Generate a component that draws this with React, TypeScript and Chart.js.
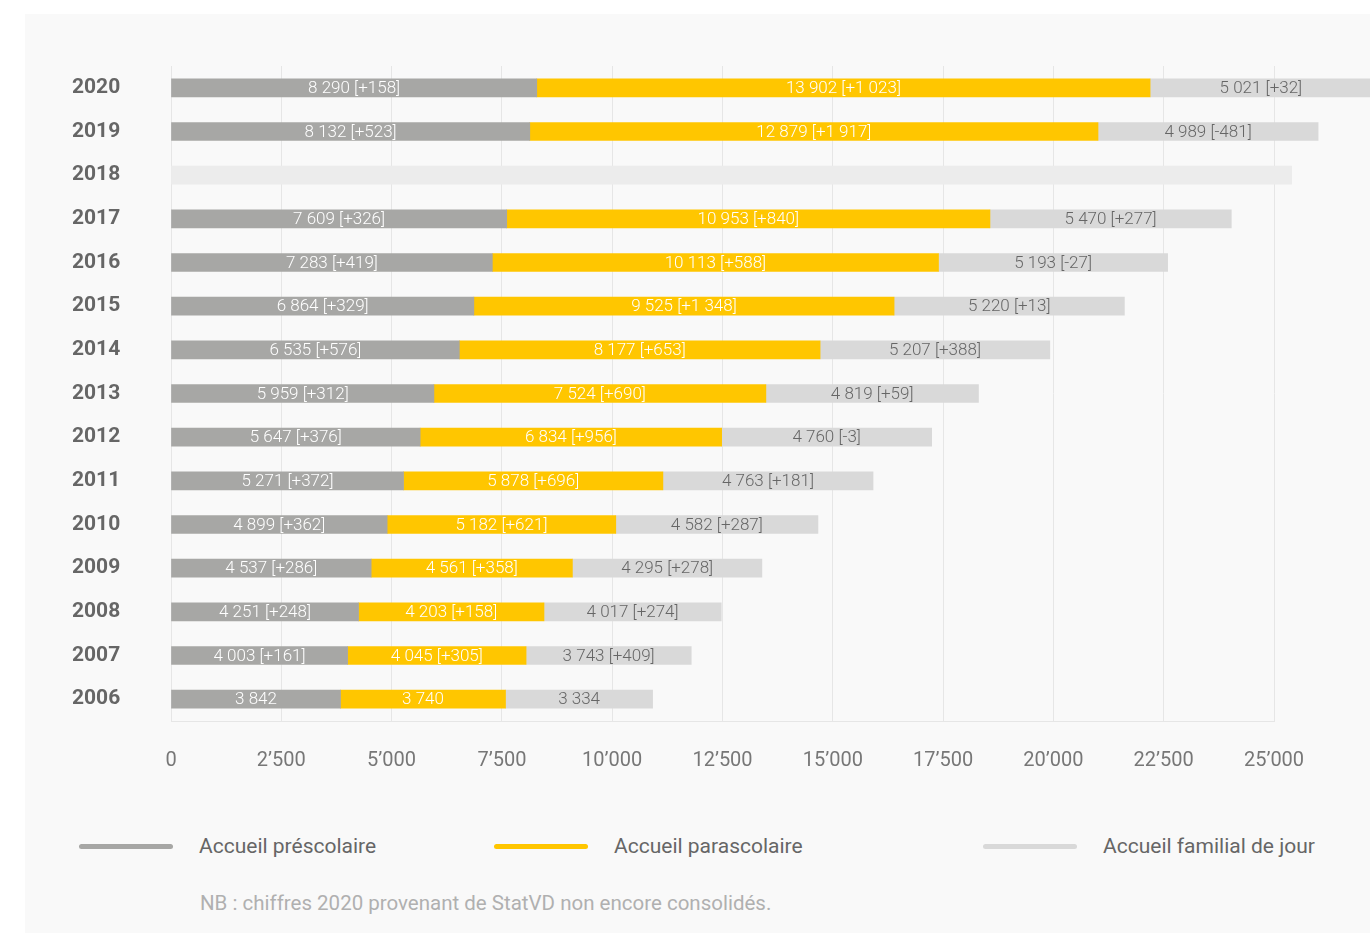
import React, { useEffect, useRef } from "react";
import { Chart, registerables } from "chart.js";

Chart.register(...registerables);

const years = ["2020", "2019", "2018", "2017", "2016", "2015", "2014", "2013", "2012", "2011", "2010", "2009", "2008", "2007", "2006"];

const prescolaire = [8290, 8132, null, 7609, 7283, 6864, 6535, 5959, 5647, 5271, 4899, 4537, 4251, 4003, 3842];
const prescolaireDelta = [158, 523, null, 326, 419, 329, 576, 312, 376, 372, 362, 286, 248, 161, null];

const parascolaire = [13902, 12879, null, 10953, 10113, 9525, 8177, 7524, 6834, 5878, 5182, 4561, 4203, 4045, 3740];
const parascolaireDelta = [1023, 1917, null, 840, 588, 1348, 653, 690, 956, 696, 621, 358, 158, 305, null];

const familial = [5021, 4989, null, 5470, 5193, 5220, 5207, 4819, 4760, 4763, 4582, 4295, 4017, 3743, 3334];
const familialDelta = [32, -481, null, 277, -27, 13, 388, 59, -3, 181, 287, 278, 274, 409, null];

// 2018: no figures, only an empty placeholder bar
const placeholder2018 = [null, null, 25400, null, null, null, null, null, null, null, null, null, null, null, null];

const xTicks = [0, 2500, 5000, 7500, 10000, 12500, 15000, 17500, 20000, 22500, 25000];

const seriesNames = ["Accueil préscolaire", "Accueil parascolaire", "Accueil familial de jour"];
const seriesColors = ["#a7a7a5", "#ffc600", "#d9d9d9"];
const labelColors = ["#ffffff", "#ffffff", "#666666"];

const groupSpace = (n: number) => String(Math.abs(n)).replace(/\B(?=(\d{3})+(?!\d))/g, " ");
const fmtDelta = (d: number) => (d < 0 ? "-" : "+") + groupSpace(d);
const fmtTick = (n: number) => String(n).replace(/\B(?=(\d{3})+(?!\d))/g, "\u2019");

const FONT = "Roboto, 'Open Sans', sans-serif";

const barLabels = {
  id: "barLabels",
  afterDatasetsDraw(chart: any) {
    const ctx = chart.ctx;
    const deltas = [prescolaireDelta, parascolaireDelta, familialDelta];
    ctx.save();
    ctx.font = `300 17px ${FONT}`;
    ctx.textAlign = "center";
    ctx.textBaseline = "middle";
    for (let i = 0; i < 3; i++) {
      const meta = chart.getDatasetMeta(i);
      const data = chart.data.datasets[i].data;
      meta.data.forEach((el: any, j: number) => {
        const v = data[j];
        if (v == null) return;
        const d = deltas[i][j];
        const txt = groupSpace(v) + (d != null ? ` [${fmtDelta(d)}]` : "");
        ctx.fillStyle = labelColors[i];
        ctx.fillText(txt, (el.x + el.base) / 2, el.y + 1);
      });
    }
    ctx.restore();
  },
};

function ChartCanvas() {
  const ref = useRef<HTMLCanvasElement | null>(null);
  useEffect(() => {
    if (!ref.current) return;
    const chart = new Chart(ref.current, {
      type: "bar",
      data: {
        labels: years,
        datasets: [
          { label: seriesNames[0], data: prescolaire, backgroundColor: seriesColors[0], clip: false as any },
          { label: seriesNames[1], data: parascolaire, backgroundColor: seriesColors[1], clip: false as any },
          { label: seriesNames[2], data: familial, backgroundColor: seriesColors[2], clip: false as any },
          { label: "2018", data: placeholder2018, backgroundColor: "#ececec", clip: false as any },
        ] as any,
      },
      options: {
        indexAxis: "y",
        animation: false,
        responsive: false,
        maintainAspectRatio: false,
        datasets: { bar: { barThickness: 18, borderWidth: 0 } } as any,
        layout: { padding: { left: 72, top: 66, right: 96, bottom: 0 } },
        plugins: { legend: { display: false }, tooltip: { enabled: false } },
        scales: {
          x: {
            stacked: true,
            min: 0,
            max: 25000,
            afterBuildTicks: (scale: any) => {
              scale.ticks = xTicks.map((v) => ({ value: v }));
            },
            afterFit: (scale: any) => {
              scale.height = 79;
            },
            grid: { color: "#e6e6e6", lineWidth: 1, drawTicks: false },
            border: { display: true, color: "#e6e6e6", width: 1 },
            ticks: {
              padding: 28,
              color: "#777777",
              font: { family: FONT, size: 20 },
              maxRotation: 0,
              autoSkip: false,
              callback: (v: any) => fmtTick(Number(v)),
            },
          },
          y: {
            stacked: true,
            afterFit: (scale: any) => {
              scale.width = 99;
            },
            grid: { display: false },
            border: { display: false },
            ticks: {
              crossAlign: "far",
              padding: 0,
              color: "#666666",
              font: { family: FONT, size: 21, weight: "bold" },
            },
          },
        },
      },
      plugins: [barLabels],
    });
    return () => chart.destroy();
  }, []);
  return <canvas ref={ref} width={1370} height={800} style={{ position: "absolute", left: 0, top: 0, width: 1370, height: 800 }} />;
}

const legendX = [79, 494, 983];

export default function App() {
  return (
    <div style={{ position: "fixed", left: 0, top: 0, width: 1370, height: 933, background: "#ffffff", overflow: "hidden", fontFamily: FONT }}>
      <div style={{ position: "absolute", left: 25, top: 14, right: 0, bottom: 0, background: "#f9f9f9" }} />
      <ChartCanvas />
      {seriesNames.map((name, i) => (
        <div key={name} style={{ position: "absolute", left: legendX[i], top: 834, height: 24, display: "flex", alignItems: "center" }}>
          <span style={{ display: "inline-block", width: 94, height: 5, borderRadius: 3, background: seriesColors[i] }} />
          <span style={{ marginLeft: 26, fontSize: 21, color: "#666666", whiteSpace: "nowrap" }}>{name}</span>
        </div>
      ))}
      <div style={{ position: "absolute", left: 200, top: 891, fontSize: 20.5, color: "#b0b0b0", whiteSpace: "nowrap" }}>
        NB : chiffres 2020 provenant de StatVD non encore consolidés.
      </div>
    </div>
  );
}
